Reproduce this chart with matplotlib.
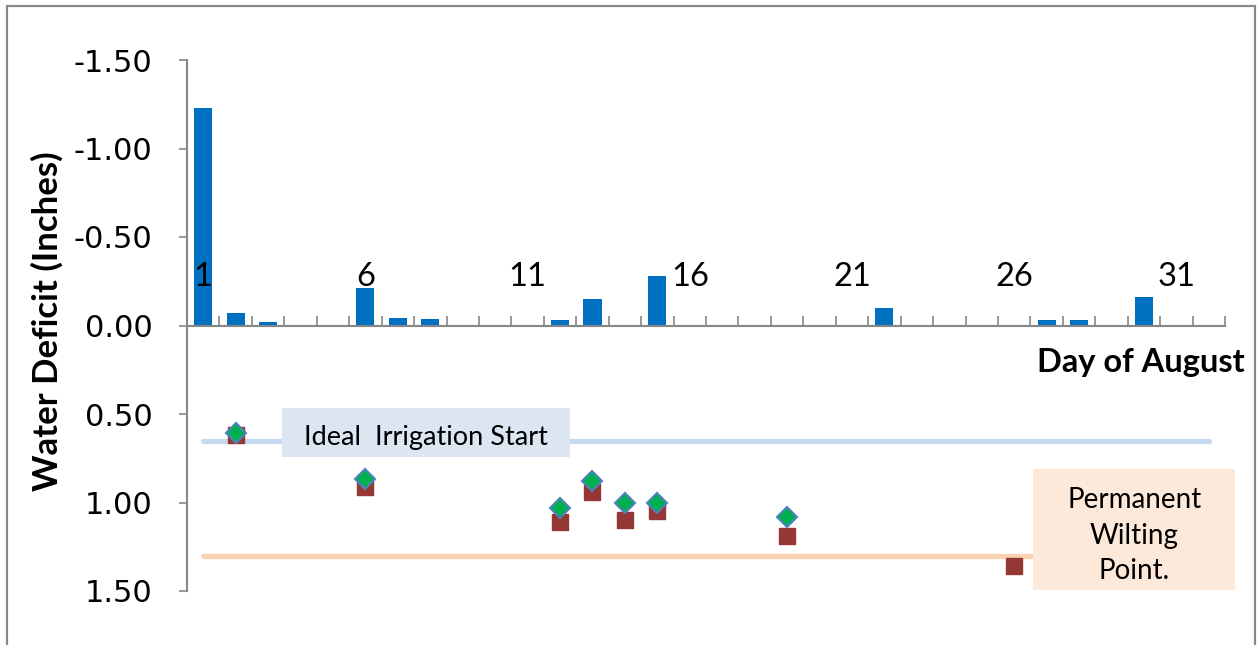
import numpy as np
import matplotlib
matplotlib.use("Agg")
import matplotlib.pyplot as plt
from matplotlib.patches import Rectangle

# ── Data ──────────────────────────────────────────────────────────────────────
days = list(range(1, 33))

# rain / irrigation surplus shown as negative deficit (bars)
bar_days = [1, 2, 3, 6, 7, 8, 12, 13, 15, 22, 27, 28, 30]
bar_vals = [-1.23, -0.07, -0.02, -0.21, -0.04, -0.035, -0.03, -0.15, -0.28,
            -0.10, -0.03, -0.03, -0.16]

# measured deficit (squares) and estimated deficit (diamonds)
sq_days = [2, 6, 12, 13, 14, 15, 19, 26]
sq_vals = [0.62, 0.91, 1.11, 0.94, 1.10, 1.05, 1.19, 1.36]
dm_days = [2, 6, 12, 13, 14, 15, 19]
dm_vals = [0.61, 0.87, 1.03, 0.88, 1.00, 1.00, 1.08]

ideal_start = [0.65] * len(days)
wilting_pt = [1.30] * len(days)

y_ticks = [-1.5, -1.0, -0.5, 0.0, 0.5, 1.0, 1.5]
x_label_days = [1, 6, 11, 16, 21, 26, 31]

# ── Style ─────────────────────────────────────────────────────────────────────
BAR_C = "#0070C0"
SQ_C = "#953735"
DM_C = "#00B050"
DM_EDGE = "#4F81BD"
IDEAL_C = "#C6D9F1"
PWP_C = "#FBD3B1"
AXIS_C = "#868686"
FONT = ["Lato", "DejaVu Sans"]

fig = plt.figure(figsize=(12.58, 6.45), dpi=100)
ax = fig.add_axes([187 / 1258, 1 - 591 / 645, (1225 - 187) / 1258, 531 / 645])
ax.set_axisbelow(False)   # day labels sit on top of the bars

# reference lines
ax.plot(days, ideal_start, color=IDEAL_C, lw=3.8, solid_capstyle="round", zorder=1)
ax.plot(days, wilting_pt, color=PWP_C, lw=3.8, solid_capstyle="round", zorder=1)

ax.bar(bar_days, bar_vals, width=0.56, color=BAR_C, zorder=2.2)

ax.plot(sq_days, sq_vals, ls="none", marker="s", ms=11.5, color=SQ_C,
        mec=SQ_C, zorder=4)
ax.plot(dm_days, dm_vals, ls="none", marker="D", ms=10, color=DM_C,
        mec=DM_EDGE, mew=1.5, zorder=5)

# text boxes
ax.add_patch(Rectangle((3.42, 0.468), 8.9, 0.277, facecolor="#DCE6F2",
                       edgecolor="none", zorder=1.5))
ax.text(7.87, 0.632, "Ideal  Irrigation Start", ha="center", va="center",
        fontsize=19.5, family=FONT, zorder=6)
ax.add_patch(Rectangle((26.59, 0.812), 6.22, 0.683, facecolor="#FDE9D9",
                       edgecolor="none", zorder=6, clip_on=False))
ax.text(29.7, 1.187, "Permanent\nWilting\nPoint.", ha="center", va="center",
        fontsize=20, family=FONT, linespacing=1.45, zorder=7)

# axes
ax.set_xlim(0.5, 32.5)
ax.set_ylim(1.5, -1.5)
for s in ["top", "right"]:
    ax.spines[s].set_visible(False)
ax.spines["bottom"].set_position(("data", 0))
ax.spines["bottom"].set_color(AXIS_C)
ax.spines["left"].set_color(AXIS_C)
ax.spines["bottom"].set_linewidth(1.5)
ax.spines["left"].set_linewidth(1.5)

ax.set_yticks(y_ticks)
ax.set_yticklabels([f"{v:.2f}" for v in y_ticks], fontsize=22, family="DejaVu Sans")
ax.tick_params(axis="y", direction="out", length=6, width=1.2, color=AXIS_C, pad=19)

ax.set_xticks(x_label_days)
ax.set_xticklabels([str(d) for d in x_label_days], fontsize=23.5, family=FONT)
ax.set_xticks(np.arange(1.5, 33, 1.0), minor=True)
ax.tick_params(axis="x", which="major", length=0, pad=-46)
ax.tick_params(axis="x", which="minor", direction="in", length=7, width=1.2,
               color=AXIS_C)

ax.set_xlabel("Day of August", fontsize=23.5, fontweight="bold", family=FONT,
              ha="right", va="center")
ax.xaxis.set_label_coords(1.019, 0.431)
ax.set_ylabel("Water Deficit (Inches)", fontsize=25, fontweight="bold", family=FONT,
              va="center")
ax.yaxis.set_label_coords(-0.135, 0.508)

# chart border
fig.patches.append(Rectangle((7 / 1258, -0.02), (1255 - 7) / 1258, 1.02 - 6 / 645,
                             transform=fig.transFigure, fill=False,
                             edgecolor="#898989", lw=1.6))

fig.savefig("out.png", dpi=100)
